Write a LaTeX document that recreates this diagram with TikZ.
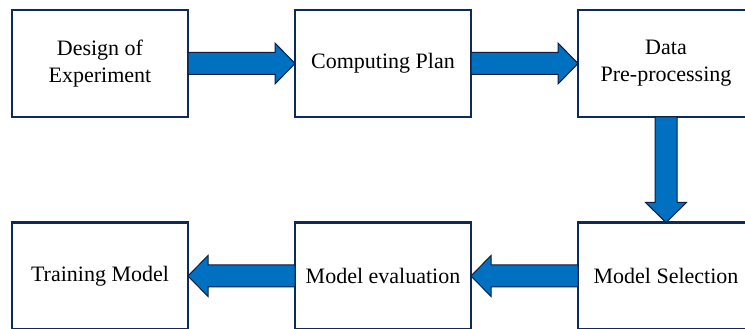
\documentclass[tikz,border=0pt]{standalone}
\usepackage{fontspec}
\setmainfont{Liberation Serif}
\usetikzlibrary{positioning, calc}

\definecolor{boxline}{HTML}{0E2A5C}
\definecolor{arrowfill}{HTML}{0070C0}
\definecolor{arrowline}{HTML}{0B1E3F}

% block arrow from #1 to #2
\newcommand{\blockarrow}[2]{%
  \coordinate (ah) at ($(#2)!20pt!(#1)$);
  \draw[barrow] ($(#1)!11pt!90:(#2)$) -- ($(ah)!11pt!90:(#2)$) -- ($(ah)!20.5pt!90:(#2)$) -- (#2)
    -- ($(ah)!20.5pt!-90:(#2)$) -- ($(ah)!11pt!-90:(#2)$) -- ($(#1)!11pt!-90:(#2)$) -- cycle;}

\begin{document}
\begin{tikzpicture}[x=1pt, y=1pt, node distance=105.5pt and 107pt,
    block/.style={draw=boxline, line width=2.5pt, fill=white, outer sep=0pt, minimum width=176pt, minimum height=107pt, align=center, font=\fontsize{22pt}{27pt}\selectfont},
    barrow/.style={draw=arrowline, line width=1pt, fill=arrowfill, line join=miter}]

    \useasboundingbox (0,0) rectangle (745,329);
    \clip (0,0) rectangle (745,329);

    % Draw rectangles
    \node (doe) [block] at (100,265.5) {Design of\\Experiment};
    \node (plan) [block, right=of doe] {Computing Plan};
    \node (prep) [block, right=of plan] {Data\\Pre-processing};
    \node (sel) [block, below=of prep] {Model Selection};
    \node (eval) [block, left=of sel] {Model evaluation};
    \node (train) [block, left=of eval] {Training Model};

    % Draw arrows
    \blockarrow{doe.east}{plan.west}
    \blockarrow{plan.east}{prep.west}
    \blockarrow{prep.south}{sel.north}
    \blockarrow{sel.west}{eval.east}
    \blockarrow{eval.west}{train.east}

\end{tikzpicture}
\end{document}
